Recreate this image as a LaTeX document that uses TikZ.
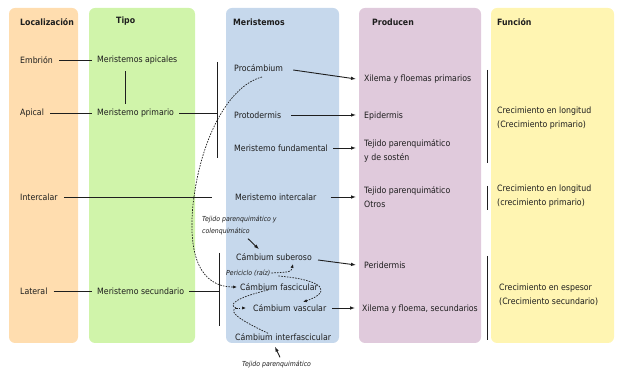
\documentclass[tikz,border=0pt]{standalone}
\usepackage{fontspec}
\setmainfont{DejaVu Sans Condensed}
\usetikzlibrary{arrows.meta}
\definecolor{colA}{HTML}{FFDDAF}
\definecolor{colB}{HTML}{D0F4AA}
\definecolor{colC}{HTML}{C6D8EC}
\definecolor{colD}{HTML}{E0CADC}
\definecolor{colE}{HTML}{FFF5B2}
\definecolor{ink}{HTML}{1E1E1E}
\begin{document}
\begin{tikzpicture}[x=1pt,y=-1pt,
  colbox/.style={rounded corners=6pt},
  lbl/.style={anchor=west, inner xsep=0pt, inner ysep=1pt, align=left, text=ink,
    font=\fontsize{8.7}{14.5}\selectfont},
  hdr/.style={lbl, font=\fontsize{8.7}{10}\selectfont\bfseries},
  note/.style={anchor=west, inner xsep=0pt, inner ysep=1pt, align=left, text=ink,
    font=\fontsize{6.9}{12}\selectfont\itshape},
  ln/.style={draw=ink, line width=0.9pt},
  arr/.style={ln, -{Latex[length=5pt,width=3.6pt]}},
  dsh/.style={draw=ink, line width=0.7pt, dash pattern=on 1.6pt off 1.2pt},
  darr/.style={dsh, -{Latex[length=4pt,width=3.2pt]}},
]
\useasboundingbox (0,0) rectangle (622,379);
% columns
\fill[colA, colbox] (9,8) rectangle (78,343);
\fill[colB, colbox] (89,8) rectangle (195,343);
\fill[colC, colbox] (226,8) rectangle (339,343);
\fill[colD, colbox] (359,8) rectangle (481,343);
\fill[colE, colbox] (491,8) rectangle (614,343);
% headers
\node[hdr] (h1) at (20,22) {Localización};
\node[hdr] (h2) at (116,21) {Tipo};
\node[hdr] (h3) at (233,22) {Meristemos};
\node[hdr] (h4) at (372,22) {Producen};
\node[hdr] (h5) at (497,22) {Función};
% localizacion
\node[lbl] (emb) at (20,60) {Embrión};
\node[lbl] (api) at (20,113) {Apical};
\node[lbl] (inc) at (20,197) {Intercalar};
\node[lbl] (lat) at (20,291) {Lateral};
% tipo
\node[lbl] (mapic) at (97,60) {Meristemos apicales};
\node[lbl] (mprim) at (97,113) {Meristemo primario};
\node[lbl] (msec) at (97,291) {Meristemo secundario};
% meristemos
\node[lbl] (proc) at (234,68) {Procámbium};
\node[lbl] (prot) at (234,115) {Protodermis};
\node[lbl] (mfun) at (234,148) {Meristemo fundamental};
\node[lbl] (mint) at (235,197) {Meristemo intercalar};
\node[lbl] (csub) at (236,257) {Cámbium suberoso};
\node[lbl] (cfas) at (240,287) {Cámbium fascicular};
\node[lbl] (cvas) at (253,308) {Cámbium vascular};
\node[lbl] (cint) at (235,337) {Cámbium interfascicular};
\node[note] (peri) at (226,273) {Periciclo (raíz)};
\node[note] (tpc) at (202,225) {Tejido parenquimático y\\colenquimático};
\node[note] (tp) at (242,364) {Tejido parenquimático};
% producen
\node[lbl] (xil1) at (364,79) {Xilema y floemas primarios};
\node[lbl] (epi) at (364,116) {Epidermis};
\node[lbl] (tej1) at (364,151) {Tejido parenquimático\\y de sostén};
\node[lbl] (tej2) at (364,197) {Tejido parenquimático\\Otros};
\node[lbl] (perd) at (364,265) {Peridermis};
\node[lbl] (xil2) at (362,309) {Xilema y floema, secundarios};
% funcion
\node[lbl] (f1) at (497,118) {Crecimiento en longitud\\(Crecimiento primario)};
\node[lbl] (f2) at (497,196) {Crecimiento en longitud\\(crecimiento primario)};
\node[lbl] (f3) at (499,295) {Crecimiento en espesor\\(Crecimiento secundario)};
% bracket coordinates
\coordinate (b1t) at (217,62);
\coordinate (b1b) at (217,158);
\coordinate (b2t) at (219,253);
\coordinate (b2b) at (219,326);
\coordinate (intend) at (212,197);
\coordinate (g1t) at (487,70);
\coordinate (g1b) at (487,163);
\coordinate (g2t) at (487,186);
\coordinate (g2b) at (487,210);
\coordinate (g3t) at (487,256);
\coordinate (g3b) at (487,340);
% plain lines
\draw[ln] ([xshift=6pt]emb.east) -- ([xshift=-5pt]mapic.west);
\draw[ln] ([xshift=6pt]api.east) -- ([xshift=-5pt]mprim.west);
\draw[ln] ([xshift=6pt]lat.east) -- ([xshift=-5pt]msec.west);
\draw[ln] ([xshift=6pt]inc.east) -- (intend);
\draw[ln] ([xshift=28pt,yshift=-6pt]mapic.south west) -- ([xshift=28pt,yshift=4pt]mprim.north west);
\draw[ln] (b1t) -- (b1b);
\draw[ln] (b2t) -- (b2b);
\draw[ln] ([xshift=5pt]mprim.east) -- (mprim.east -| b1t);
\draw[ln] ([xshift=5pt]msec.east) -- (msec.east -| b2t);
\draw[ln] (g1t) -- (g1b);
\draw[ln] (g2t) -- (g2b);
\draw[ln] (g3t) -- (g3b);
% arrows
\draw[arr] ([xshift=10pt,yshift=-2pt]proc.east) -- ([xshift=-8pt]xil1.west);
\draw[arr] ([xshift=10pt]prot.east) -- ([xshift=-8pt]prot.east -| epi.west);
\draw[arr] ([xshift=5pt]mfun.east) -- ([xshift=-8pt]mfun.east -| tej1.west);
\draw[arr] ([xshift=14pt]mint.east) -- ([xshift=-8pt]mint.east -| tej2.west);
\draw[arr] ([xshift=6pt,yshift=-3pt]csub.east) -- ([xshift=-8pt]perd.west);
\draw[arr] ([xshift=6pt]cvas.east) -- ([xshift=-7pt]cvas.east -| xil2.west);
\draw[arr] ([xshift=46pt,yshift=-3pt]tpc.south west) -- ([xshift=23pt,yshift=3pt]csub.north west);
\draw[arr] ([xshift=38pt,yshift=2pt]tp.north west) -- ([xshift=40pt,yshift=-5pt]cint.south west);
% dashed curves
\draw[darr] ([xshift=28pt,yshift=-9pt]proc.west) .. controls (228,86) and (200,140) .. (193,205)
   .. controls (188,255) and (200,287) .. ([xshift=-3pt]cfas.west);
\draw[darr] ([xshift=1pt]peri.east) .. controls (291,272) .. (293,264);
\draw[darr] ([xshift=8pt,yshift=-3pt]peri.east) .. controls (325,280) and (332,292) .. (303,302);
\coordinate (vtip) at (236,308);
\draw[dsh] (268,290) .. controls (235,298) and (228,305) .. (vtip);
\draw[dsh] ([xshift=33pt,yshift=-1pt]cint.north west) .. controls (240,320) and (228,312) .. (vtip);
\draw[darr] (vtip) -- ([xshift=-7pt]cvas.west);
\end{tikzpicture}
\end{document}
